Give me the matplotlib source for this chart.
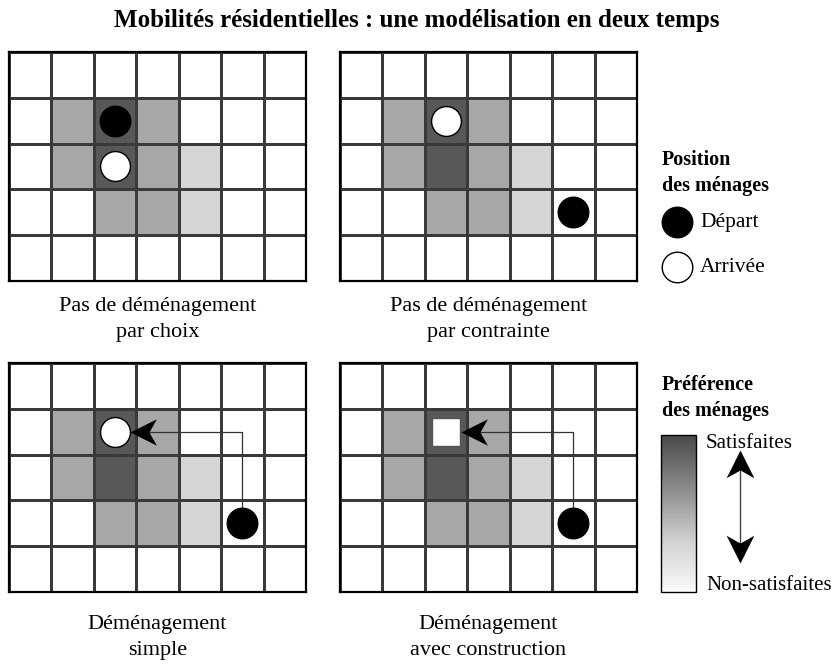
import numpy as np
import matplotlib
matplotlib.use("Agg")
import matplotlib.pyplot as plt
from matplotlib.colors import ListedColormap, LinearSegmentedColormap
from matplotlib.patches import Rectangle
from matplotlib.path import Path

plt.rcParams["font.family"] = ["Liberation Serif", "DejaVu Serif"]

# niveaux de préférence (0 = non-satisfaites, 3 = satisfaites), 5 lignes x 7 colonnes
pref_grid = [
    [0, 0, 0, 0, 0, 0, 0],
    [0, 2, 3, 2, 0, 0, 0],
    [0, 2, 3, 2, 1, 0, 0],
    [0, 0, 2, 2, 1, 0, 0],
    [0, 0, 0, 0, 0, 0, 0],
]
pref_colors = ["#ffffff", "#d5d5d5", "#a7a7a7", "#585858"]

panel_titles = [
    "Pas de déménagement\npar choix",
    "Pas de déménagement\npar contrainte",
    "Déménagement\nsimple",
    "Déménagement\navec construction",
]
# (colonne, ligne) des ménages
depart_pos = [(2, 1), (5, 3), (5, 3), (5, 3)]
arrivee_pos = [(2, 2), (2, 1), (2, 1), (2, 1)]
arrivee_marker = ["o", "o", "o", "s"]
show_move = [False, False, True, True]


def stealth_head(direction):
    # pointe de flèche "stealth", la pointe est à l'origine
    pts = [(0, 0), (1.6, 0.8), (1.15, 0), (1.6, -0.8), (0, 0)]
    if direction == "up":
        pts = [(-y, -x) for x, y in pts]
    elif direction == "down":
        pts = [(y, x) for x, y in pts]
    codes = [Path.MOVETO, Path.LINETO, Path.LINETO, Path.LINETO, Path.CLOSEPOLY]
    return Path(pts, codes)


W, H = 834, 664
fig = plt.figure(figsize=(W / 100, H / 100), dpi=100)

fig.text(0.5, 1 - 21 / H, "Mobilités résidentielles : une modélisation en deux temps",
         ha="center", va="center", fontsize=18, fontweight="bold")

# position des panneaux en pixels (gauche, haut), écart du libellé sous la grille
panel_boxes = [(9, 52), (340, 52), (9, 363), (340, 363)]
label_gap = [16, 16, 23, 23]
pw, ph = 297, 229

cmap = ListedColormap(pref_colors)
data = np.array(pref_grid)
nrows, ncols = data.shape

for i, (px, py) in enumerate(panel_boxes):
    ax = fig.add_axes([px / W, 1 - (py + ph) / H, pw / W, ph / H])
    ax.pcolormesh(np.arange(ncols + 1), np.arange(nrows + 1), data, cmap=cmap,
                  vmin=-0.5, vmax=3.5, edgecolors="#3a3a3a", linewidth=0.75)
    ax.set_xlim(0, ncols)
    ax.set_ylim(nrows, 0)
    ax.set_xticks([])
    ax.set_yticks([])
    for sp in ax.spines.values():
        sp.set_linewidth(1.6)
        sp.set_color("black")

    dx, dy = depart_pos[i]
    axx, axy = arrivee_pos[i]
    if show_move[i]:
        ax.plot([dx + 0.5, dx + 0.5, axx + 1.1], [dy + 0.5, axy + 0.5, axy + 0.5],
                color="#333333", lw=0.9, zorder=3)
        ax.plot(axx + 0.86, axy + 0.5, marker=stealth_head("left"), ms=38,
                color="black", mew=0, zorder=4)
    ax.plot(dx + 0.5, dy + 0.5, "o", ms=22, mfc="black", mec="black", zorder=5)
    if arrivee_marker[i] == "s":
        ax.plot(axx + 0.5, axy + 0.5, "s", ms=20, mfc="white", mec="#555555",
                mew=1.0, zorder=5)
    else:
        ax.plot(axx + 0.5, axy + 0.5, "o", ms=21.5, mfc="white", mec="black",
                mew=1.0, zorder=5)

    ax.text(0.5, -label_gap[i] / ph, panel_titles[i], transform=ax.transAxes,
            ha="center", va="top", fontsize=16, linespacing=1.5)

# légende (coordonnées en pixels)
lax = fig.add_axes([0, 0, 1, 1], zorder=-1)
lax.set_xlim(0, W)
lax.set_ylim(H, 0)
lax.axis("off")

lax.text(662, 173, "Position\ndes ménages", ha="left", va="center",
         fontsize=14.5, fontweight="bold", linespacing=1.35)
lax.plot(677, 222, "o", ms=22, mfc="black", mec="black")
lax.text(700, 222, "Départ", ha="left", va="center", fontsize=15.5)
lax.plot(677, 267, "o", ms=22, mfc="white", mec="black", mew=1.0)
lax.text(700, 267, "Arrivée", ha="left", va="center", fontsize=15.5)

lax.text(662, 398, "Préférence\ndes ménages", ha="left", va="center",
         fontsize=14.5, fontweight="bold", linespacing=1.35)
grad = np.linspace(0, 1, 200).reshape(-1, 1)
gcmap = LinearSegmentedColormap.from_list("pref", ["#4a4a4a", "#8a8a8a", "#d0d0d0", "#fbfbfb"])
lax.imshow(grad, cmap=gcmap, extent=[661, 696, 592, 435], aspect="auto")
lax.add_patch(Rectangle((661, 435), 35, 157, fill=False, ec="black", lw=1.0))
lax.text(706, 443, "Satisfaites", ha="left", va="center", fontsize=15.2)
lax.text(706, 585, "Non-satisfaites", ha="left", va="center", fontsize=15.0)
# double flèche
lax.plot([740, 740], [466, 548], color="#444444", lw=1.0)
lax.plot(740, 450, marker=stealth_head("up"), ms=40, color="black", mew=0)
lax.plot(740, 563, marker=stealth_head("down"), ms=40, color="black", mew=0)
lax.set_xlim(0, W)
lax.set_ylim(H, 0)

fig.savefig("out.png", dpi=100)
